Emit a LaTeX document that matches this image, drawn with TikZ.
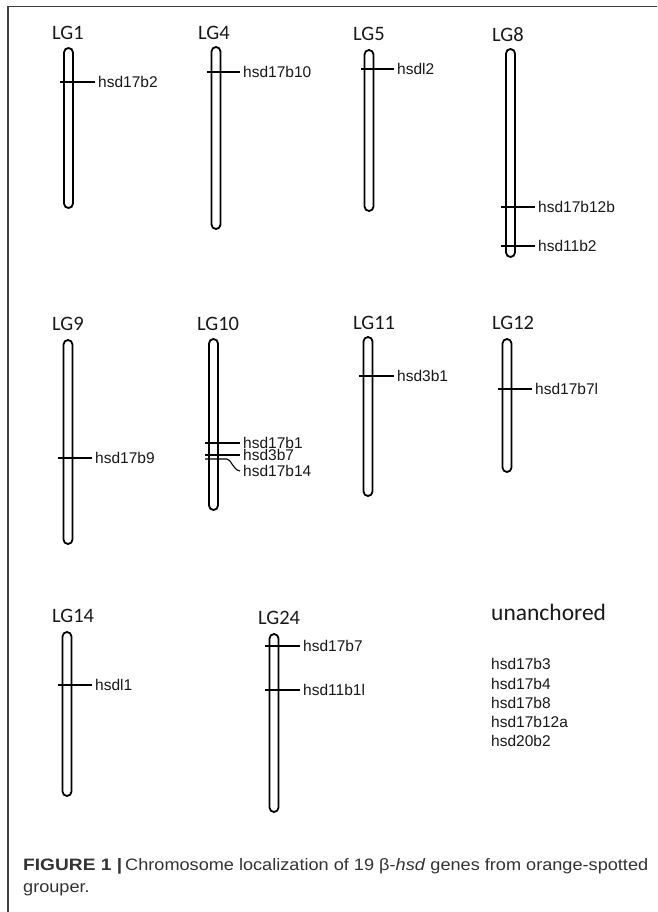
\documentclass[tikz,border=0pt]{standalone}
\usepackage{fontspec}
\usepackage{graphicx}
\setmainfont{Liberation Sans}
\newfontfamily\lgfont{Carlito}
\newfontfamily\capfont{Liberation Sans}
\newlength\capbw
\newlength\caprw
\newcommand\capsz{\capfont\fontsize{16.5}{18}\selectfont}
\newcommand\capbold{\textbf{FIGURE 1 |}}
\newcommand\caprest{Chromosome localization of 19 β-\textit{hsd} genes from orange-spotted}
\begin{document}
\settowidth\capbw{\capsz\capbold}%
\settowidth\caprw{\capsz\caprest}%
\pgfmathsetmacro\capsb{99/\capbw}%
\pgfmathsetmacro\capsr{523/\caprw}%
\begin{tikzpicture}[x=1pt,y=-1pt,
  rod/.style={draw=black,line width=1.8pt,rounded corners=4.5pt,minimum width=9pt,inner sep=0pt,fill=white},
  mk/.style={draw=black,line width=1.1pt},
  gene/.style={anchor=west,inner xsep=3pt,inner ysep=0pt,font=\fontsize{15.5}{18}\selectfont,text height=11pt,text depth=0pt,text=black!90},
  lg/.style={anchor=west,inner sep=0pt,font=\lgfont\fontsize{20.5}{24}\selectfont,text height=13pt,text depth=0pt,text=black!90},
  captext/.style={anchor=base west,inner sep=0pt,text=black!80,font=\capsz},
  frame/.style={draw=black!75,line width=1.3pt}]
\useasboundingbox (0,0) rectangle (657,912);
\fill[white] (0,0) rectangle (657,912);
\draw[frame] (8,912) -- (8,6.5) -- (657,6.5);

% linkage group labels
\node[lg] (t1) at (52,33) {LG1};
\node[lg] (t4) at (198,33) {LG4};
\node[lg] (t5) at (353,34) {LG5};
\node[lg] (t8) at (492,35) {LG8};
\node[lg] (t9) at (52,324) {LG9};
\node[lg] (t10) at (197,324) {LG10};
\node[lg] (t11) at (353,323) {LG11};
\node[lg] (t12) at (492,323) {LG12};
\node[lg] (t14) at (52,616) {LG14};
\node[lg] (t24) at (258,618) {LG24};
\node[anchor=west,inner sep=0pt,font=\lgfont\fontsize{23.5}{28}\selectfont,text height=11pt,text depth=0pt,text=black!90] (un) at (491,615) {unanchored};

% chromosomes
\node[rod,minimum height=160pt] (c1) at (68.5,128) {};
\node[rod,minimum height=182pt] (c4) at (216,138) {};
\node[rod,minimum height=161pt] (c5) at (369,130.5) {};
\node[rod,minimum height=208pt] (c8) at (510.5,153) {};
\node[rod,minimum height=204pt] (c9) at (68,442) {};
\node[rod,minimum height=171pt] (c10) at (213.5,424.5) {};
\node[rod,minimum height=159pt] (c11) at (368,416.5) {};
\node[rod,minimum height=133pt] (c12) at (507,405.5) {};
\node[rod,minimum height=164pt] (c14) at (67,714) {};
\node[rod,minimum height=178pt] (c24) at (274,723) {};

% markers
\coordinate (m1) at (60,82);
\node[gene] (g1) at (95,82) {hsd17b2};
\draw[mk] (m1) -- (g1.west);
\coordinate (m4) at (207,72);
\node[gene] (g4) at (240,72) {hsd17b10};
\draw[mk] (m4) -- (g4.west);
\coordinate (m5) at (361,69);
\node[gene] (g5) at (394,69) {hsdl2};
\draw[mk] (m5) -- (g5.west);
\coordinate (m8a) at (501,207);
\node[gene] (g8a) at (535,207) {hsd17b12b};
\draw[mk] (m8a) -- (g8a.west);
\coordinate (m8b) at (501,246);
\node[gene] (g8b) at (535,246) {hsd11b2};
\draw[mk] (m8b) -- (g8b.west);
\coordinate (m9) at (58,458);
\node[gene] (g9) at (92,458) {hsd17b9};
\draw[mk] (m9) -- (g9.west);
\coordinate (m10a) at (205,443);
\node[gene] (g10a) at (240,443) {hsd17b1};
\draw[mk] (m10a) -- (g10a.west);
\coordinate (m10b) at (205,455);
\node[gene] (g10b) at (240,455) {hsd3b7};
\draw[mk] (m10b) -- (g10b.west);
\coordinate (m10c) at (205,459);
\node[gene] (g10c) at (240,471) {hsd17b14};
\draw[mk] (m10c) -- (227,459) .. controls (231,459) and (233,470) .. (g10c.west);
\coordinate (m11) at (359,376);
\node[gene] (g11) at (394,376) {hsd3b1};
\draw[mk] (m11) -- (g11.west);
\coordinate (m12) at (498,389);
\node[gene] (g12) at (532,389) {hsd17b7l};
\draw[mk] (m12) -- (g12.west);
\coordinate (m14) at (58,685);
\node[gene] (g14) at (92,685) {hsdl1};
\draw[mk] (m14) -- (g14.west);
\coordinate (m24a) at (265,646);
\node[gene] (g24a) at (300,646) {hsd17b7};
\draw[mk] (m24a) -- (g24a.west);
\coordinate (m24b) at (265,690);
\node[gene] (g24b) at (300,690) {hsd11b1l};
\draw[mk] (m24b) -- (g24b.west);

% unanchored genes
\node[gene,inner xsep=0pt] (u1) at (491,664) {hsd17b3};
\node[gene,inner xsep=0pt] (u2) at (491,684) {hsd17b4};
\node[gene,inner xsep=0pt] (u3) at (491,703) {hsd17b8};
\node[gene,inner xsep=0pt] (u4) at (491,722) {hsd17b12a};
\node[gene,inner xsep=0pt] (u5) at (491,741) {hsd20b2};

% caption
\node[captext] (cap1a) at (23,870) {\scalebox{\capsb}[1]{\capbold}};
\node[captext] (cap1b) at (125,870) {\scalebox{\capsr}[1]{\caprest}};
\node[captext] (cap2) at (23,892) {\scalebox{\capsr}[1]{grouper.}};
\end{tikzpicture}
\end{document}
